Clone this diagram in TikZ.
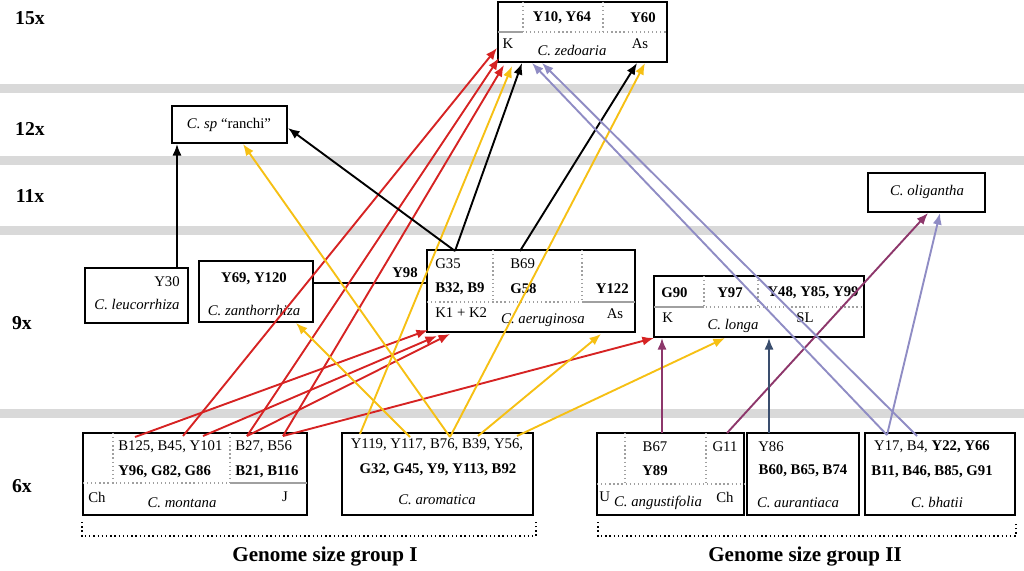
\documentclass[tikz,border=0pt]{standalone}
\usepackage{fontspec}
\setmainfont{Liberation Serif}
\usepackage{tikz}
\usetikzlibrary{arrows.meta,fit}
\usepackage{xcolor}

\definecolor{bandgrey}{RGB}{217,217,217}
\definecolor{cellgrey}{RGB}{160,160,160}
\definecolor{linkred}{RGB}{214,35,35}
\definecolor{linkyellow}{RGB}{246,192,20}
\definecolor{linkplum}{RGB}{141,55,107}
\definecolor{linkslate}{RGB}{58,78,110}
\definecolor{linklav}{RGB}{143,140,196}

\tikzset{
  sbox/.style={draw, line width=1.3pt, inner sep=0pt, fit={#1}},
  lbl/.style={inner sep=0pt},
  bl/.style={inner sep=0pt, font=\fontsize{10.5}{12}\selectfont\bfseries},
  level/.style={inner sep=0pt, font=\fontsize{14}{16}\selectfont\bfseries},
  cell/.style={cellgrey, line width=0.9pt, dotted},
  cellsolid/.style={cellgrey, line width=0.9pt},
  link/.style={line width=1.35pt, -{Latex[length=2.9mm,width=2.3mm]}},
}

\begin{document}
\begin{tikzpicture}[x=0.25mm, y=-0.25mm, font=\fontsize{10.5}{12}\selectfont]
\useasboundingbox (0,0) rectangle (1024,570);

% grey bands between the levels
\foreach \y in {88,160,230,413} {
    \fill[bandgrey] (0,\y-4.5) rectangle (1024,\y+4.5);
}

% ploidy levels
\node[level] (l15) at (30,18) {15x};
\node[level] (l12) at (30,129) {12x};
\node[level] (l11) at (30,196) {11x};
\node[level] (l9) at (22,323) {9x};
\node[level] (l6) at (22,486) {6x};

% 15x
\node[sbox={(498,2) (667,62)}] (zed) {};
\draw[cell] (523,2) -- (523,32) -- (667,32);
\draw[cell] (603,2) -- (603,32);
\draw[cellsolid] (498,32) -- (523,32);
\node[bl] (zedA) at (562,18) {Y10, Y64};
\node[bl] (zedB) at (643,18) {Y60};
\node[lbl] (zedK) at (508,44) {K};
\node[lbl] (zedAs) at (640,44) {As};
\node[lbl] (zedN) at (572,50) {\textit{C. zedoaria}};

% 12x and 11x
\node[sbox={(172,106) (287,143)}] (ranchi) {};
\node[lbl] (ranchiN) at (229,125) {\textit{C. sp} ``ranchi''};
\node[sbox={(868,173) (985,212)}] (olig) {};
\node[lbl] (oligN) at (927,192) {\textit{C. oligantha}};

% 9x
\node[sbox={(85,268) (188,323)}] (leuc) {};
\node[lbl, anchor=east] (leucY) at (180,282) {Y30};
\node[lbl] (leucN) at (137,304) {\textit{C. leucorrhiza}};

\node[sbox={(199,261) (313,322)}] (zanth) {};
\node[bl] (zanthY) at (254,279) {Y69, Y120};
\node[lbl] (zanthN) at (254,310) {\textit{C. zanthorrhiza}};

\node[sbox={(427,250) (635,332)}] (aeru) {};
\draw[cell] (493,250) -- (493,302);
\draw[cell] (582,250) -- (582,302);
\draw[cell] (427,302) -- (582,302);
\draw[cellsolid] (582,302) -- (635,302);
\node[lbl, anchor=west] (aeruG35) at (435,264) {G35};
\node[lbl, anchor=west] (aeruB69) at (510,264) {B69};
\node[bl, anchor=west] (aeruB32) at (435,289) {B32, B9};
\node[bl, anchor=west] (aeruG58) at (510,289) {G58};
\node[bl, anchor=east] (aeruY122) at (629,289) {Y122};
\node[lbl, anchor=west] (aeruK) at (435,313) {K1 + K2};
\node[lbl] (aeruAs) at (615,314) {As};
\node[lbl] (aeruN) at (543,320) {\textit{C. aeruginosa}};

\node[sbox={(654,276) (864,337)}] (longa) {};
\draw[cell] (704,276) -- (704,307) -- (864,307);
\draw[cell] (758,276) -- (758,307);
\draw[cellsolid] (654,307) -- (704,307);
\node[bl, anchor=west] (longaG90) at (661,293) {G90};
\node[bl] (longaY97) at (730,293) {Y97};
\node[bl] (longaY48) at (813,293) {Y48, Y85, Y99};
\node[lbl, anchor=west] (longaK) at (662,318) {K};
\node[lbl] (longaSL) at (805,318) {SL};
\node[lbl] (longaN) at (733,326) {\textit{C. longa}};

% zanthorrhiza -- aeruginosa
\draw[line width=1.35pt] (zanth.east |- 0,283) -- (aeru.west |- 0,283);
\node[bl] (y98) at (405,273) {Y98};

% 6x
\node[sbox={(83,433) (307,515)}] (mont) {};
\draw[cell] (113,433) -- (113,483) -- (230,483);
\draw[cell] (230,433) -- (230,483);
\draw[cell] (83,483) -- (113,483);
\draw[cellsolid] (230,483) -- (307,483);
\node[lbl, anchor=west] (montA) at (118,447) {B125, B45, Y101};
\node[lbl, anchor=west] (montB) at (235,447) {B27, B56};
\node[bl, anchor=west] (montC) at (118,472) {Y96, G82, G86};
\node[bl, anchor=west] (montD) at (235,472) {B21, B116};
\node[lbl, anchor=west] (montCh) at (88,497) {Ch};
\node[lbl] (montJ) at (285,497) {J};
\node[lbl] (montN) at (182,503) {\textit{C. montana}};

\node[sbox={(342,433) (533,515)}] (arom) {};
\node[lbl] (aromA) at (437,445) {Y119, Y117, B76, B39, Y56,};
\node[bl] (aromB) at (438,470) {G32, G45, Y9, Y113, B92};
\node[lbl] (aromN) at (437,500) {\textit{C. aromatica}};

\node[sbox={(597,433) (744,515)}] (angu) {};
\draw[cell] (625,433) -- (625,484);
\draw[cell] (706,433) -- (706,484);
\draw[cell] (597,484) -- (744,484);
\node[lbl] (anguB67) at (655,447) {B67};
\node[lbl] (anguG11) at (725,447) {G11};
\node[bl] (anguY89) at (655,471) {Y89};
\node[lbl, anchor=west] (anguU) at (599,497) {U};
\node[lbl] (anguCh) at (725,497) {Ch};
\node[lbl] (anguN) at (658,503) {\textit{C. angustifolia}};

\node[sbox={(747,433) (859,515)}] (aura) {};
\node[lbl, anchor=west] (auraY86) at (758,447) {Y86};
\node[bl] (auraB) at (803,471) {B60, B65, B74};
\node[lbl] (auraN) at (798,503) {\textit{C. aurantiaca}};

\node[sbox={(865,433) (1015,515)}] (bhat) {};
\node[lbl] (bhatA) at (932,447) {Y17, B4, \textbf{Y22, Y66}};
\node[bl] (bhatB) at (932,472) {B11, B46, B85, G91};
\node[lbl] (bhatN) at (937,502) {\textit{C. bhatii}};

% genome size groups
\draw[line width=1pt, dotted] (82,522) -- (82,536) -- (536,536) -- (536,522);
\draw[line width=1pt, dotted] (598,522) -- (598,536) -- (1016,536) -- (1016,522);
\node[inner sep=0pt, font=\fontsize{15}{18}\selectfont\bfseries] (g1) at (325,556) {Genome size group I};
\node[inner sep=0pt, font=\fontsize{15}{18}\selectfont\bfseries] (g2) at (805,556) {Genome size group II};

% start points of the links
\coordinate (sB125) at (135,437);
\coordinate (sB45) at (183,436);
\coordinate (sY101) at (203,436);
\coordinate (sB27) at (247,436);
\coordinate (sB56) at (283,436);
\coordinate (sY119) at (360,434);
\coordinate (sY117) at (410,437);
\coordinate (sB76) at (450,437);
\coordinate (sB39) at (478,436);
\coordinate (sY56) at (517,436);
\coordinate (sB67) at (662,433);
\coordinate (sG11) at (727,433);
\coordinate (sY86) at (769,433);
\coordinate (sY17) at (887,435);
\coordinate (sB4) at (917,436);
\coordinate (sY30) at (177,268);
\coordinate (sG35) at (455,251);
\coordinate (sB69) at (520,251);

% end points of the links
\coordinate (tZr1) at (497,48);
\coordinate (tZr2) at (499,58);
\coordinate (tZr3) at (504,65);
\coordinate (tZy1) at (512,66);
\coordinate (tZk1) at (522,63);
\coordinate (tZl1) at (532,63);
\coordinate (tZl2) at (542,63);
\coordinate (tZk2) at (637,63);
\coordinate (tZy2) at (645,63);
\coordinate (tAr1) at (428,330);
\coordinate (tAr2) at (437,336);
\coordinate (tAr3) at (450,334);
\coordinate (tAy) at (601,334);
\coordinate (tLr) at (654,338);
\coordinate (tLy) at (725,338);
\coordinate (tLp) at (662,338);
\coordinate (tLs) at (769,338);
\coordinate (tRk1) at (177,144);
\coordinate (tRk2) at (288,128);
\coordinate (tRy) at (243,144);
\coordinate (tZa) at (296,323);
\coordinate (tOp) at (928,213);
\coordinate (tOl) at (940,213);

% links
\foreach \a/\b in {sB45/tZr1, sB27/tZr2, sB56/tZr3, sB125/tAr1, sY101/tAr2, sB27/tAr3, sB56/tLr} {
    \draw[link, linkred] (\a) -- (\b);
}
\foreach \a/\b in {sY119/tZy1, sY117/tZa, sB76/tRy, sB76/tZy2, sB39/tAy, sY56/tLy} {
    \draw[link, linkyellow] (\a) -- (\b);
}
\foreach \a/\b in {sY30/tRk1, sG35/tRk2, sG35/tZk1, sB69/tZk2} {
    \draw[link, black] (\a) -- (\b);
}
\foreach \a/\b in {sB67/tLp, sG11/tOp} {
    \draw[link, linkplum] (\a) -- (\b);
}
\draw[link, linkslate] (sY86) -- (tLs);
\foreach \a/\b in {sY17/tZl1, sB4/tZl2, sY17/tOl} {
    \draw[link, linklav] (\a) -- (\b);
}
\end{tikzpicture}
\end{document}
